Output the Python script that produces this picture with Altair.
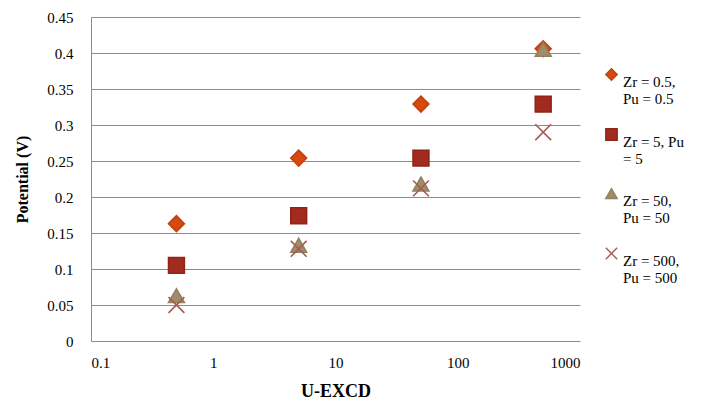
import altair as alt
import pandas as pd

# U-EXCD concentrations (log axis) and measured potential for each Zr/Pu loading
u_excd = [0.5, 5, 50, 500]
series_names = ["Zr = 0.5,|Pu = 0.5", "Zr = 5, Pu|= 5", "Zr = 50,|Pu = 50", "Zr = 500,|Pu = 500"]
pot_zr05 = [0.163, 0.254, 0.329, 0.406]
pot_zr5 = [0.105, 0.174, 0.254, 0.329]
pot_zr50 = [0.063, 0.133, 0.218, 0.405]
pot_zr500 = [0.050, 0.128, 0.212, 0.290]

x_ticks = [0.1, 1, 10, 100, 1000]
y_ticks = [0, 0.05, 0.1, 0.15, 0.2, 0.25, 0.3, 0.35, 0.4, 0.45]

fills = ["#d9480f", "#a32a1f", "#a08c6a", "transparent"]
strokes = ["#c1420f", "#8f2419", "#93805f", "#a65a50"]
x_shape = "M -1 -1 L 1 1 M 1 -1 L -1 1"
shapes = ["diamond", "square", "triangle-up", x_shape]

rows = []
for name, vals in zip(series_names, [pot_zr05, pot_zr5, pot_zr50, pot_zr500]):
    for x, y in zip(u_excd, vals):
        rows.append({"series": name, "u": x, "v": y})
df = pd.DataFrame(rows)

serif = "Times New Roman, Times, Liberation Serif, DejaVu Serif, serif"

# one shared legend: labels wrap onto two lines at the '|' marker
legend = alt.Legend(title=None, labelExpr="split(datum.label, '|')")

chart = alt.Chart(df).mark_point(size=250, strokeWidth=1.6, opacity=1).encode(
    x=alt.X(
        "u:Q",
        scale=alt.Scale(type="log", domain=[0.1, 1000], nice=False),
        axis=alt.Axis(
            values=x_ticks,
            labelExpr="datum.value < 1 ? '0.1' : format(datum.value, 'd')",
            title="U-EXCD",
            grid=False,
            domain=False,
            ticks=False,
            labelPadding=14,
            labelFontSize=15,
            titleFontSize=18,
            titlePadding=12,
        ),
    ),
    y=alt.Y(
        "v:Q",
        scale=alt.Scale(domain=[0, 0.45], nice=False),
        axis=alt.Axis(
            values=y_ticks,
            labelExpr="datum.value == 0 ? '0' : format(datum.value, '.2~f')",
            title="Potential (V)",
            grid=True,
            gridColor="#8c8c8c",
            domainColor="#8c8c8c",
            ticks=False,
            labelPadding=18,
            labelFontSize=15,
            titleFontSize=16,
            titlePadding=16,
        ),
    ),
    fill=alt.Fill("series:N", scale=alt.Scale(domain=series_names, range=fills), legend=legend),
    stroke=alt.Stroke("series:N", scale=alt.Scale(domain=series_names, range=strokes), legend=legend),
    shape=alt.Shape("series:N", scale=alt.Scale(domain=series_names, range=shapes), legend=legend),
).properties(
    width=489,
    height=324,
    autosize=alt.AutoSizeParams(type="none"),
    padding={"left": 91, "top": 17, "right": 122, "bottom": 67},
).configure(
    font=serif,
).configure_axis(
    labelFont=serif,
    titleFont=serif,
    labelColor="#000000",
    titleColor="#000000",
    titleFontWeight="bold",
).configure_legend(
    orient="none",
    legendX=513,
    legendY=50,
    labelFont=serif,
    labelFontSize=15,
    labelColor="#000000",
    labelBaseline="top",
    labelOffset=4,
    symbolSize=130,
    symbolStrokeWidth=1.4,
    rowPadding=18,
    labelLimit=200,
).configure_view(
    stroke=None,
)

chart.save("out.html", embed_options={"renderer": "svg", "actions": False})
